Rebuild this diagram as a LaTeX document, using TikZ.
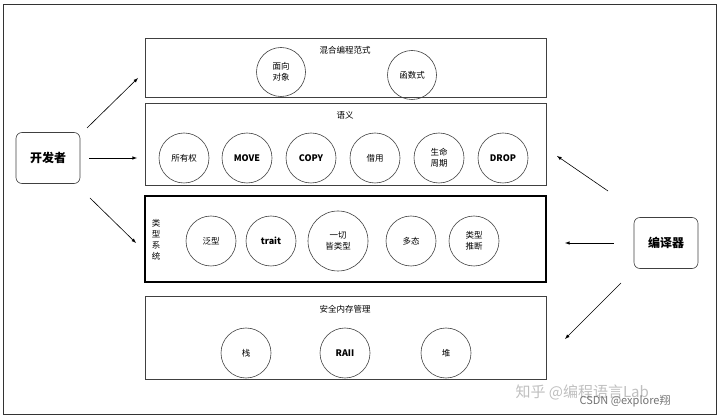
\documentclass[tikz,border=0pt]{standalone}
\usepackage{fontspec}
\setmainfont{Noto Sans CJK SC}
\begin{document}
\begin{tikzpicture}[x=1pt,y=-1pt,
  box/.style={draw=black!75,line width=0.6pt},
  circ/.style={draw=black!75,circle,minimum size=50pt,inner sep=0pt,align=center,font=\fontsize{8.5}{11}\selectfont,line width=0.6pt},
  actor/.style={draw=black!75,rounded corners=6pt,minimum width=64pt,minimum height=51pt,font=\fontsize{12}{14}\selectfont\bfseries,line width=0.6pt},
  arr/.style={-latex,line width=0.6pt},
  ttl/.style={font=\fontsize{8.5}{11}\selectfont}]
\useasboundingbox (0,0) rectangle (720,419);
\draw[black!80,line width=1pt] (3,5) rectangle (716,414);
\draw[box] (145,38) rectangle (546,97);
\draw[box] (145,103) rectangle (546,185);
\draw[black,line width=1.4pt] (145,196) rectangle (546,282);
\draw[box] (145,296) rectangle (546,379);
\node[ttl] (t1) at (345,50) {混合编程范式};
\node[ttl] (t2) at (345,115) {语义};
\node[ttl] (t4) at (345,309) {安全内存管理};
\node[ttl,align=center] (t3) at (156,240) {类\\型\\系\\统};
\node[circ,minimum size=49pt] (oo) at (281,72) {面向\\对象};
\node[circ,minimum size=49pt] (fn) at (412,75) {函数式};
\node[circ] (a1) at (184,158) {所有权};
\node[circ,font=\fontsize{9}{11}\selectfont\bfseries] (a2) at (247,158) {MOVE};
\node[circ,font=\fontsize{9}{11}\selectfont\bfseries] (a3) at (311,158) {COPY};
\node[circ] (a4) at (375,158) {借用};
\node[circ] (a5) at (439,158) {生命\\周期};
\node[circ,font=\fontsize{9}{11}\selectfont\bfseries] (a6) at (503,158) {DROP};
\node[circ] (b1) at (211,241) {泛型};
\node[circ,font=\fontsize{9}{11}\selectfont\bfseries] (b2) at (271,241) {trait};
\node[circ,minimum size=60pt] (b3) at (338,241) {一切\\皆类型};
\node[circ] (b4) at (411,241) {多态};
\node[circ] (b5) at (474,241) {类型\\推断};
\node[circ] (c1) at (246,353) {栈};
\node[circ,font=\fontsize{9}{11}\selectfont\bfseries] (c2) at (345,353) {RAII};
\node[circ] (c3) at (446,353) {堆};
\node[actor] (dev) at (48,158) {开发者};
\node[actor] (cmp) at (666,243) {编译器};
\coordinate (d1) at (138,78); \coordinate (d2) at (137,158); \coordinate (d3) at (136,243);
\coordinate (e1) at (557,156); \coordinate (e2) at (565,243); \coordinate (e3) at (565,339);
\draw[arr] (87,128) -- (d1);
\draw[arr] (dev.east)++(9,0) -- (d2);
\draw[arr] (90,198) -- (d3);
\draw[arr] (608,191) -- (e1);
\draw[arr] (cmp.west)++(-20,0) -- (e2);
\draw[arr] (621,283) -- (e3);
\node[text=black!25,font=\fontsize{15}{17}\selectfont,anchor=west] (w1) at (512,392) {知乎 @编程语言Lab};
\node[text=black!55,font=\fontsize{11}{13}\selectfont,anchor=west] (w2) at (576,401) {CSDN @explore翔};
\end{tikzpicture}
\end{document}
